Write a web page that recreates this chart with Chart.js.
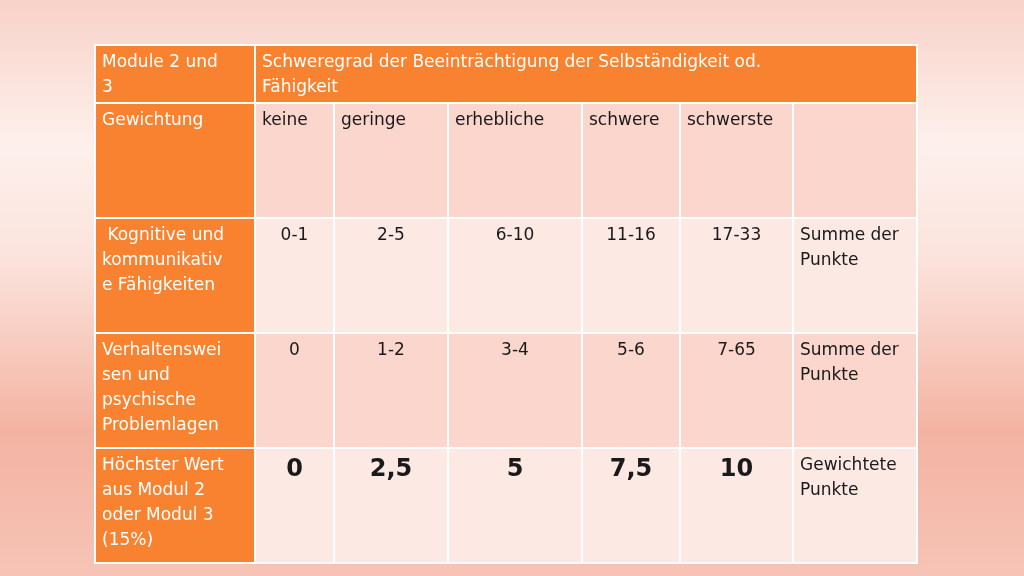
<!DOCTYPE html>
<html><head><meta charset="utf-8">
<script src="https://cdn.jsdelivr.net/npm/chart.js@4"></script>
<style>html,body{margin:0;padding:0;overflow:hidden}</style>
</head><body>
<canvas id="c" width="1024" height="576"></canvas>
<script>
// Data
const headerCorner = "Module 2 und\n3";
const headerTitle = "Schweregrad der Beeinträchtigung der Selbständigkeit od.\nFähigkeit";
const rowLabels = ["Gewichtung", " Kognitive und\nkommunikativ\ne Fähigkeiten", "Verhaltenswei\nsen und\npsychische\nProblemlagen", "Höchster Wert\naus Modul 2\noder Modul 3\n(15%)"];
const categories = ["keine", "geringe", "erhebliche", "schwere", "schwerste", ""];
const kognitiv = ["0-1", "2-5", "6-10", "11-16", "17-33", "Summe der\nPunkte"];
const verhalten = ["0", "1-2", "3-4", "5-6", "7-65", "Summe der\nPunkte"];
const gewichtet = ["0", "2,5", "5", "7,5", "10", "Gewichtete\nPunkte"];

// Layout (scale units = pixels)
const colEdges = [95, 255, 334, 448, 582, 680, 793, 917];
const rowEdges = [45, 103, 218, 333, 448, 563];
const ORANGE = "#f8822f", PINK = "#fbd6cc", LIGHT = "#fde9e3";

const tablePlugin = {
  id: "table",
  beforeDraw(chart) {
    const ctx = chart.ctx, xs = chart.scales.x, ys = chart.scales.y;
    const X = v => xs.getPixelForValue(v), Y = v => ys.getPixelForValue(v);
    const g = ctx.createLinearGradient(0, 0, 0, 576);
    g.addColorStop(0, "#f8d2c8"); g.addColorStop(0.25, "#fdf0ec");
    g.addColorStop(0.45, "#fbe3dc"); g.addColorStop(0.75, "#f3b3a2"); g.addColorStop(1, "#f6c4b6");
    ctx.fillStyle = g; ctx.fillRect(0, 0, 1024, 576);
    function cell(c0, c1, r, fill, text, opts = {}) {
      const x0 = X(colEdges[c0]), x1 = X(colEdges[c1]), y0 = Y(rowEdges[r]), y1 = Y(rowEdges[r + 1]);
      ctx.fillStyle = fill; ctx.fillRect(x0, y0, x1 - x0, y1 - y0);
      ctx.strokeStyle = "#ffffff"; ctx.lineWidth = 2; ctx.strokeRect(x0, y0, x1 - x0, y1 - y0);
      ctx.fillStyle = opts.color || "#1a1a1a";
      ctx.font = opts.font || "17px 'DejaVu Sans'";
      ctx.textBaseline = "alphabetic";
      const lines = text.split("\n");
      lines.forEach((ln, i) => {
        const yy = y0 + (opts.big ? 28 : 22) + i * 25;
        if (opts.center) { ctx.textAlign = "center"; ctx.fillText(ln, (x0 + x1) / 2, yy); }
        else { ctx.textAlign = "left"; ctx.fillText(ln, x0 + 7, yy); }
      });
    }
    const W = { color: "#ffffff" };
    cell(0, 1, 0, ORANGE, headerCorner, W);
    cell(1, 7, 0, ORANGE, headerTitle, W);
    const rowFills = [PINK, LIGHT, PINK, LIGHT];
    rowLabels.forEach((l, r) => cell(0, 1, r + 1, ORANGE, l, W));
    categories.forEach((t, c) => cell(c + 1, c + 2, 1, rowFills[0], t));
    [kognitiv, verhalten].forEach((arr, k) => arr.forEach((t, c) =>
      cell(c + 1, c + 2, k + 2, rowFills[k + 1], t, { center: c < 5 })));
    gewichtet.forEach((t, c) => cell(c + 1, c + 2, 4, rowFills[3], t,
      c < 5 ? { center: true, big: true, font: "bold 24px 'DejaVu Sans'" } : {}));
  }
};

new Chart(document.getElementById("c"), {
  type: "scatter",
  data: { datasets: [{ data: [] }] },
  options: {
    responsive: false, animation: false, devicePixelRatio: 1,
    layout: { padding: 0 },
    plugins: { legend: { display: false }, tooltip: { enabled: false } },
    scales: {
      x: { type: "linear", min: 0, max: 1024, offset: false, display: false },
      y: { type: "linear", min: 0, max: 576, reverse: true, offset: false, display: false }
    }
  },
  plugins: [tablePlugin]
});
</script>
</body></html>
